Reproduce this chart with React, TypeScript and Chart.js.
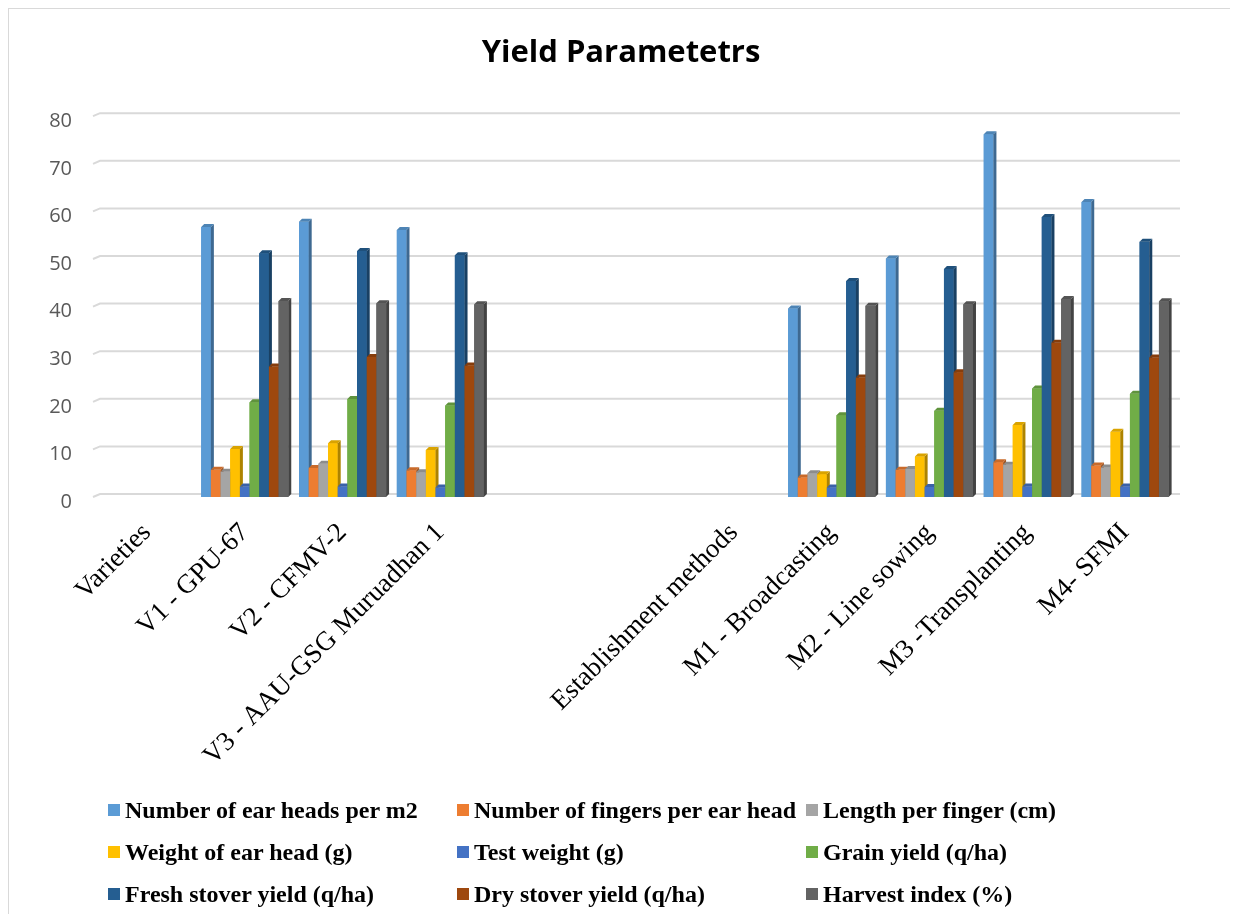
import React, { useEffect, useRef } from "react";
import { Chart, registerables } from "chart.js";

Chart.register(...registerables);

const chartTitle = "Yield Parametetrs";

const categories = [
  "Varieties",
  "V1 - GPU-67",
  "V2 - CFMV-2",
  "V3 - AAU-GSG Muruadhan 1",
  "",
  "",
  "Establishment methods",
  "M1 - Broadcasting",
  "M2 - Line sowing",
  "M3 -Transplanting",
  "M4- SFMI",
];

const seriesNames = [
  "Number of ear heads per m2",
  "Number of fingers per ear head",
  "Length per finger (cm)",
  "Weight of ear head (g)",
  "Test weight (g)",
  "Grain yield (q/ha)",
  "Fresh stover yield (q/ha)",
  "Dry stover yield (q/ha)",
  "Harvest index (%)",
];

const seriesColors = [
  "#5B9BD5",
  "#ED7D31",
  "#A5A5A5",
  "#FFC000",
  "#4472C4",
  "#70AD47",
  "#255E91",
  "#9E480E",
  "#636363",
];

const earHeadsPerM2 = [null, 56.7, 57.8, 56.1, null, null, null, 39.6, 50.1, 76.2, 62.0];
const fingersPerEarHead = [null, 5.7, 6.1, 5.6, null, null, null, 4.1, 5.7, 7.3, 6.6];
const lengthPerFinger = [null, 5.3, 7.0, 5.2, null, null, null, 5.0, 5.9, 6.8, 6.2];
const weightOfEarHead = [null, 10.1, 11.3, 9.9, null, null, null, 4.8, 8.5, 15.1, 13.7];
const testWeight = [null, 2.2, 2.2, 2.0, null, null, null, 2.0, 2.1, 2.2, 2.2];
const grainYield = [null, 19.9, 20.6, 19.2, null, null, null, 17.2, 18.1, 22.8, 21.7];
const freshStoverYield = [null, 51.2, 51.7, 50.8, null, null, null, 45.4, 47.9, 58.8, 53.6];
const dryStoverYield = [null, 27.4, 29.4, 27.6, null, null, null, 25.1, 26.2, 32.4, 29.3];
const harvestIndex = [null, 41.2, 40.7, 40.5, null, null, null, 40.2, 40.5, 41.6, 41.1];

const seriesValues = [
  earHeadsPerM2,
  fingersPerEarHead,
  lengthPerFinger,
  weightOfEarHead,
  testWeight,
  grainYield,
  freshStoverYield,
  dryStoverYield,
  harvestIndex,
];

const yMin = 0;
const yMax = 80;
const yStep = 10;

const DEPTH = 3;

function shade(hex: string, f: number): string {
  const n = parseInt(hex.slice(1), 16);
  const r = Math.max(0, Math.min(255, Math.round(((n >> 16) & 255) * f)));
  const g = Math.max(0, Math.min(255, Math.round(((n >> 8) & 255) * f)));
  const b = Math.max(0, Math.min(255, Math.round((n & 255) * f)));
  return `rgb(${r},${g},${b})`;
}

const bar3d = {
  id: "bar3d",
  beforeDatasetsDraw(chart: any) {
    const { ctx, chartArea, scales } = chart;
    const y = scales.y;
    ctx.save();
    ctx.strokeStyle = "#d9d9d9";
    ctx.lineWidth = 2;
    y.ticks.forEach((t: any) => {
      const py = y.getPixelForValue(t.value) - DEPTH;
      ctx.beginPath();
      ctx.moveTo(chartArea.left - 5, py + 3);
      ctx.lineTo(chartArea.left + 2, py);
      ctx.lineTo(chartArea.right + 6, py);
      ctx.stroke();
    });
    ctx.restore();
  },
  afterDatasetsDraw(chart: any) {
    const ctx = chart.ctx;
    const n = chart.data.labels.length;
    const d = DEPTH;
    ctx.save();
    for (let j = 0; j < n; j++) {
      for (let i = 0; i < chart.data.datasets.length; i++) {
        const v = chart.data.datasets[i].data[j];
        if (v === null || v === undefined) continue;
        const el = chart.getDatasetMeta(i).data[j];
        if (!el) continue;
        const { x, y, base, width } = el.getProps(["x", "y", "base", "width"], true);
        el.draw(ctx);
        const col = seriesColors[i];
        const l = x - width / 2;
        const r = x + width / 2;
        ctx.fillStyle = shade(col, 0.68);
        ctx.beginPath();
        ctx.moveTo(r, y);
        ctx.lineTo(r + d, y - d);
        ctx.lineTo(r + d, base - d);
        ctx.lineTo(r, base);
        ctx.closePath();
        ctx.fill();
        ctx.fillStyle = shade(col, 0.85);
        ctx.beginPath();
        ctx.moveTo(l, y);
        ctx.lineTo(l + d, y - d);
        ctx.lineTo(r + d, y - d);
        ctx.lineTo(r, y);
        ctx.closePath();
        ctx.fill();
      }
    }
    ctx.restore();
  },
};

export default function App() {
  const canvasRef = useRef<HTMLCanvasElement | null>(null);

  useEffect(() => {
    if (!canvasRef.current) return;
    const chart = new Chart(canvasRef.current, {
      type: "bar",
      data: {
        labels: categories,
        datasets: seriesNames.map((name, i) => ({
          label: name,
          data: seriesValues[i],
          backgroundColor: seriesColors[i],
          borderWidth: 0,
          categoryPercentage: 0.89,
          barPercentage: 1,
        })),
      },
      options: {
        animation: false,
        responsive: false,
        maintainAspectRatio: false,
        devicePixelRatio: 1,
        layout: { padding: { left: 0, right: 0, top: 0, bottom: 147 } },
        plugins: {
          legend: { display: false },
          tooltip: { enabled: false },
          title: {
            display: true,
            text: chartTitle,
            color: "#000000",
            font: { family: "'Open Sans', sans-serif", size: 31, weight: "bold" },
            padding: { top: 27, bottom: 44 },
          },
        },
        scales: {
          x: {
            grid: { display: false },
            border: { display: false },
            ticks: {
              autoSkip: false,
              minRotation: 45,
              maxRotation: 45,
              padding: 12,
              color: "#000000",
              font: { family: "'Liberation Serif', 'Times New Roman', serif", size: 27 },
            },
            afterFit(scale: any) {
              scale.height = 270;
            },
          },
          y: {
            min: yMin,
            max: yMax,
            border: { display: false },
            grid: { display: false, drawTicks: false },
            ticks: {
              stepSize: yStep,
              padding: 26,
              labelOffset: 5,
              color: "#595959",
              font: { family: "'Open Sans', sans-serif", size: 20 },
            },
            afterFit(scale: any) {
              scale.width = 90;
            },
          },
          y2: {
            type: "linear",
            position: "right",
            display: true,
            min: yMin,
            max: yMax,
            border: { display: false },
            grid: { display: false, drawTicks: false },
            ticks: { display: false },
            afterFit(scale: any) {
              scale.width = 60;
            },
          },
        },
      },
      plugins: [bar3d],
    });
    return () => chart.destroy();
  }, []);

  return (
    <div style={{ position: "relative", width: 1226, height: 906, background: "#fff" }}>
      <canvas
        ref={canvasRef}
        width={1226}
        height={906}
        style={{ position: "absolute", left: 0, top: 0, width: 1226, height: 906 }}
      />
      <div
        style={{
          position: "absolute",
          left: 0,
          top: 0,
          width: 1224,
          height: 906,
          borderLeft: "1px solid #d9d9d9",
          borderRight: "1px solid #d9d9d9",
          borderTop: "1px solid #d9d9d9",
          pointerEvents: "none",
        }}
      />
      {seriesNames.map((name, i) => {
        const col = i % 3;
        const row = Math.floor(i / 3);
        return (
          <div
            key={name}
            style={{
              position: "absolute",
              left: 100 + col * 349,
              top: 781 + row * 42,
              height: 42,
              display: "flex",
              alignItems: "center",
              whiteSpace: "nowrap",
              fontFamily: "'Liberation Serif', 'Times New Roman', serif",
              fontWeight: "bold",
              fontSize: 24,
              color: "#000",
            }}
          >
            <span
              style={{
                display: "inline-block",
                width: 12,
                height: 12,
                background: seriesColors[i],
                marginRight: 5,
              }}
            />
            <span>{name}</span>
          </div>
        );
      })}
    </div>
  );
}
